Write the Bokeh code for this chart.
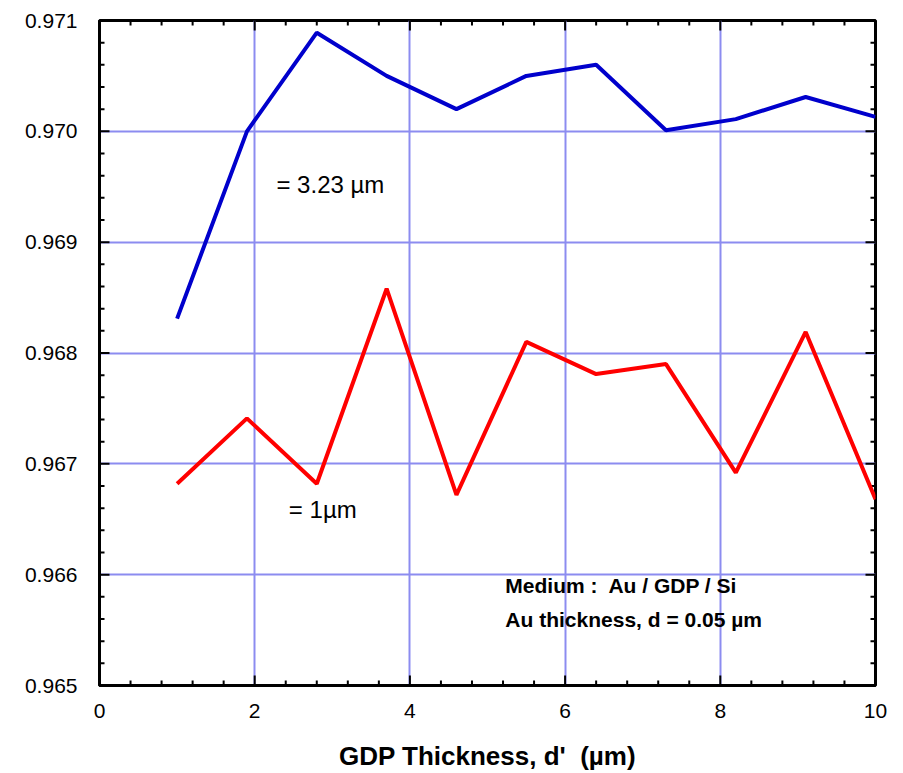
import numpy as np
from bokeh.plotting import figure
from bokeh.models import Range1d, FixedTicker, LinearAxis, Label, PrintfTickFormatter
from bokeh.embed import file_html
from bokeh.resources import INLINE

# data
gdp_thickness = [1.0, 1.9, 2.8, 3.7, 4.6, 5.5, 6.4, 7.3, 8.2, 9.1, 10.0]
refl_323 = [0.96831, 0.97000, 0.97089, 0.97050, 0.97020, 0.97050, 0.97060, 0.97001, 0.97011, 0.97031, 0.97013]
refl_1 = [0.96682, 0.96741, 0.96682, 0.96858, 0.96672, 0.96810, 0.96781, 0.96790, 0.96692, 0.96819, 0.96668]
x_ticks = [0, 2, 4, 6, 8, 10]
y_ticks = [0.965, 0.966, 0.967, 0.968, 0.969, 0.970, 0.971]
label_323 = "= 3.23 µm"
label_1 = "= 1µm"
note1 = "Medium :\u00a0 Au / GDP / Si"
note2 = "Au thickness, d = 0.05 µm"
x_title = "GDP Thickness, d'\u00a0 (µm)"

FONT = "Liberation Sans"
X0, X1 = 0, 10
Y0, Y1 = 0.965, 0.971

p = figure(width=903, height=773, output_backend="svg", toolbar_location=None,
           x_range=Range1d(X0, X1), y_range=Range1d(Y0, Y1),
           x_axis_location=None, y_axis_location=None,
           min_border_left=99, min_border_right=28, min_border_top=20, min_border_bottom=88)
p.background_fill_color = "white"
p.border_fill_color = "white"
p.outline_line_color = "black"
p.outline_line_width = 3

def style_axis(ax, ticks):
    ax.ticker = FixedTicker(ticks=ticks)
    ax.axis_line_color = "black"
    ax.axis_line_width = 3
    ax.major_tick_in = 0
    ax.major_tick_out = 0
    ax.minor_tick_in = 0
    ax.minor_tick_out = 0
    ax.major_label_text_font = FONT
    ax.major_label_text_font_size = "21px"
    ax.major_label_text_color = "black"

xb = LinearAxis()
style_axis(xb, x_ticks)
xb.major_label_standoff = 18
xb.axis_label = x_title
xb.axis_label_text_font = FONT
xb.axis_label_text_font_style = "bold"
xb.axis_label_text_font_size = "26px"
xb.axis_label_text_color = "black"
xb.axis_label_standoff = 20
p.add_layout(xb, "below")

yl = LinearAxis()
style_axis(yl, y_ticks)
yl.formatter = PrintfTickFormatter(format="%.3f")
yl.major_label_standoff = 22
p.add_layout(yl, "left")

p.xgrid.ticker = FixedTicker(ticks=x_ticks)
p.ygrid.ticker = FixedTicker(ticks=y_ticks)
for g in (p.xgrid, p.ygrid):
    g.grid_line_color = "#8c8cf0"
    g.grid_line_width = 2

# inward ticks on all four sides (half of each dash is clipped by the frame)
def minors(ticks):
    out = []
    for a, b in zip(ticks[:-1], ticks[1:]):
        out.extend(np.linspace(a, b, 6)[1:-1].tolist())
    return out

x_minor = minors(x_ticks)
y_minor = minors(y_ticks)
for xs, size in ((x_ticks, 20), (x_minor, 10)):
    for yy in (Y0, Y1):
        p.scatter(xs, [yy] * len(xs), marker="dash", angle=np.pi / 2, size=size,
                  line_color="black", line_width=2)
for ys, size in ((y_ticks, 20), (y_minor, 10)):
    for xx in (X0, X1):
        p.scatter([xx] * len(ys), ys, marker="dash", size=size,
                  line_color="black", line_width=2)

p.line(gdp_thickness, refl_323, line_color="#0000cc", line_width=4)
p.line(gdp_thickness, refl_1, line_color="#ff0000", line_width=4)

p.add_layout(Label(x=2.28, y=0.96952, text=label_323, text_font=FONT, text_font_size="24px",
                   text_baseline="middle", text_color="black"))
p.add_layout(Label(x=2.44, y=0.96659, text=label_1, text_font=FONT, text_font_size="24px",
                   text_baseline="middle", text_color="black"))
p.add_layout(Label(x=5.23, y=0.96590, text=note1, text_font=FONT, text_font_size="21px",
                   text_font_style="bold", text_baseline="middle", text_color="black"))
p.add_layout(Label(x=5.23, y=0.96560, text=note2, text_font=FONT, text_font_size="21px",
                   text_font_style="bold", text_baseline="middle", text_color="black"))

open("out.html", "w").write(file_html(p, INLINE))
